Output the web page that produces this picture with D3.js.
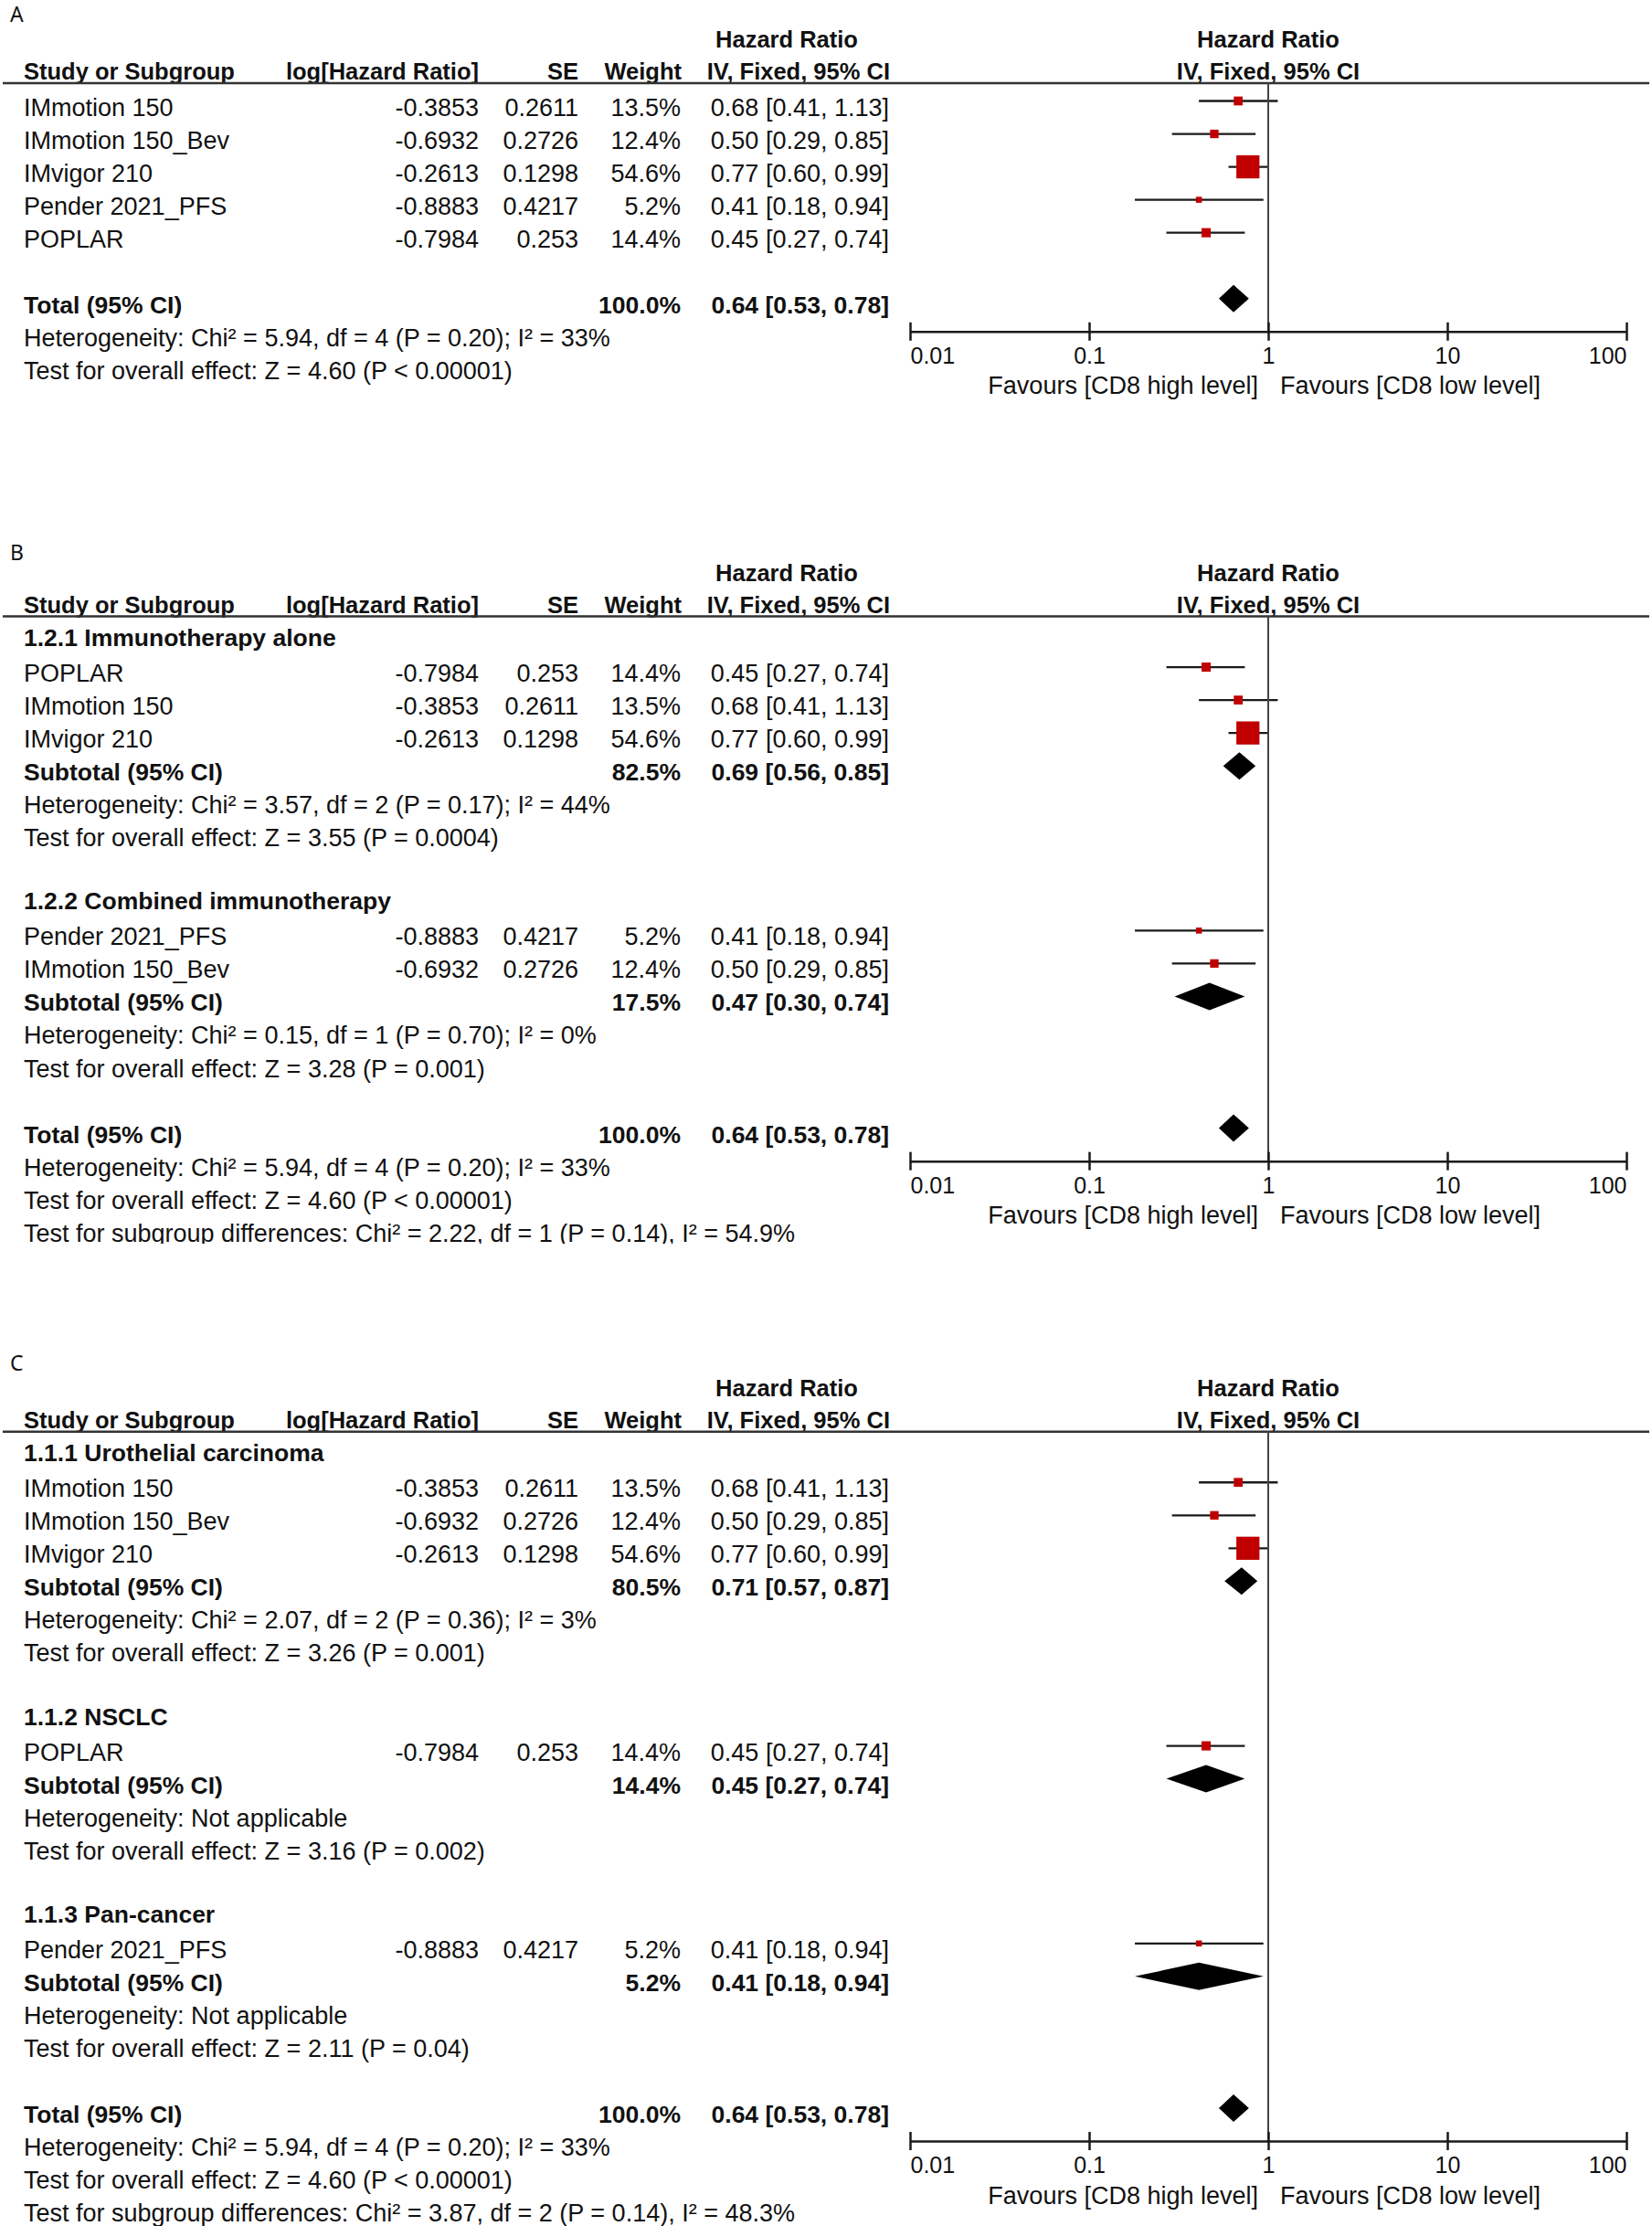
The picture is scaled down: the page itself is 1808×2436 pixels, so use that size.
<!DOCTYPE html>
<html><head><meta charset="utf-8">
<script src="https://cdn.jsdelivr.net/npm/d3@7"></script>
<style>
html,body{margin:0;padding:0;background:#fff;}
svg{display:block;background:#fff;}
text{font-family:"Liberation Sans", Arial, sans-serif; fill:#111;}
</style></head><body>
<svg id="chart" width="1808" height="2436"></svg>
<script>
// ================= DATA =================
const studyNames   = ["IMmotion 150", "IMmotion 150_Bev", "IMvigor 210", "Pender 2021_PFS", "POPLAR"];
const logHazardRatios = ["-0.3853", "-0.6932", "-0.2613", "-0.8883", "-0.7984"];
const standardErrors  = ["0.2611", "0.2726", "0.1298", "0.4217", "0.253"];
const studyWeights = [13.5, 12.4, 54.6, 5.2, 14.4];
const studyHR      = [0.68, 0.50, 0.77, 0.41, 0.45];
const studyLower   = [0.41, 0.29, 0.60, 0.18, 0.27];
const studyUpper   = [1.13, 0.85, 0.99, 0.94, 0.74];

const totalEstimate = [100.0, 0.64, 0.53, 0.78]; // weight, HR, lower, upper
const totalHeterogeneity = "Heterogeneity: Chi\u00B2 = 5.94, df = 4 (P = 0.20); I\u00B2 = 33%";
const totalEffect = "Test for overall effect: Z = 4.60 (P < 0.00001)";

// Panel A
const orderA = [0, 1, 2, 3, 4];

// Panel B
const groupTitlesB  = ["1.2.1 Immunotherapy alone", "1.2.2 Combined immunotherapy"];
const groupStudiesB = [[4, 0, 2], [3, 1]];
const subWeightB = [82.5, 17.5];
const subHRB     = [0.69, 0.47];
const subLowerB  = [0.56, 0.30];
const subUpperB  = [0.85, 0.74];
const subHeterogeneityB = ["Heterogeneity: Chi\u00B2 = 3.57, df = 2 (P = 0.17); I\u00B2 = 44%",
                           "Heterogeneity: Chi\u00B2 = 0.15, df = 1 (P = 0.70); I\u00B2 = 0%"];
const subEffectB = ["Test for overall effect: Z = 3.55 (P = 0.0004)",
                    "Test for overall effect: Z = 3.28 (P = 0.001)"];
const subgroupDiffB = "Test for subgroup differences: Chi\u00B2 = 2.22, df = 1 (P = 0.14), I\u00B2 = 54.9%";

// Panel C
const groupTitlesC  = ["1.1.1 Urothelial carcinoma", "1.1.2 NSCLC", "1.1.3 Pan-cancer"];
const groupStudiesC = [[0, 1, 2], [4], [3]];
const subWeightC = [80.5, 14.4, 5.2];
const subHRC     = [0.71, 0.45, 0.41];
const subLowerC  = [0.57, 0.27, 0.18];
const subUpperC  = [0.87, 0.74, 0.94];
const subHeterogeneityC = ["Heterogeneity: Chi\u00B2 = 2.07, df = 2 (P = 0.36); I\u00B2 = 3%",
                           "Heterogeneity: Not applicable",
                           "Heterogeneity: Not applicable"];
const subEffectC = ["Test for overall effect: Z = 3.26 (P = 0.001)",
                    "Test for overall effect: Z = 3.16 (P = 0.002)",
                    "Test for overall effect: Z = 2.11 (P = 0.04)"];
const subgroupDiffC = "Test for subgroup differences: Chi\u00B2 = 3.87, df = 2 (P = 0.14), I\u00B2 = 48.3%";

const tickValues = [0.01, 0.1, 1, 10, 100];
const tickLabels = ["0.01", "0.1", "1", "10", "100"];
const favourLeft = "Favours [CD8 high level]";
const favourRight = "Favours [CD8 low level]";

// ================= LAYOUT =================
const svg = d3.select("#chart");
const x = d3.scaleLog().domain([0.01, 100]).range([996, 1780]);
const boxSize = d3.scaleLinear().domain([0, 100]).range([4.6, 42.5]);
const STEP = 36.04;
const COL = {name: 26, logHR: 524, se: 633, weight: 745, ci: 973};
const FS = 27, FSB = 26.5, FSH = 25.5;

const fmtCI = (hr, lo, hi) => `${hr.toFixed(2)} [${lo.toFixed(2)}, ${hi.toFixed(2)}]`;
const fmtW = w => w.toFixed(1) + "%";

function rowsA() {
  const r = orderA.map(i => ({type: "study", i}));
  r.push({type: "blank"});
  r.push({type: "pooled", label: "Total (95% CI)", w: totalEstimate[0], hr: totalEstimate[1], lo: totalEstimate[2], hi: totalEstimate[3], total: true});
  r.push({type: "note", text: totalHeterogeneity});
  r.push({type: "note", text: totalEffect});
  return r;
}
function rowsGrouped(titles, studies, sw, shr, slo, shi, het, eff, diff) {
  const r = [];
  titles.forEach((t, g) => {
    r.push({type: "group", text: t});
    studies[g].forEach(i => r.push({type: "study", i}));
    r.push({type: "pooled", label: "Subtotal (95% CI)", w: sw[g], hr: shr[g], lo: slo[g], hi: shi[g]});
    r.push({type: "note", text: het[g]});
    r.push({type: "note", text: eff[g]});
    r.push({type: "blank"});
  });
  r.push({type: "pooled", label: "Total (95% CI)", w: totalEstimate[0], hr: totalEstimate[1], lo: totalEstimate[2], hi: totalEstimate[3], total: true});
  r.push({type: "note", text: totalHeterogeneity});
  r.push({type: "note", text: totalEffect});
  r.push({type: "note", text: diff});
  return r;
}

const panels = [
  {label: "A", labelY: 24, headerY: 91, rows: rowsA(), clip: null},
  {label: "B", labelY: 613, headerY: 674.5,
   rows: rowsGrouped(groupTitlesB, groupStudiesB, subWeightB, subHRB, subLowerB, subUpperB, subHeterogeneityB, subEffectB, subgroupDiffB),
   clip: [560, 1361]},
  {label: "C", labelY: 1500, headerY: 1566.7,
   rows: rowsGrouped(groupTitlesC, groupStudiesC, subWeightC, subHRC, subLowerC, subUpperC, subHeterogeneityC, subEffectC, subgroupDiffC),
   clip: null}
];

function txt(g, xPos, yPos, s, anchor, size, bold) {
  return g.append("text").attr("x", xPos).attr("y", yPos).attr("text-anchor", anchor || "start")
    .style("font-size", (size || FS) + "px").style("font-weight", bold ? "bold" : "normal").text(s);
}

panels.forEach((p, pi) => {
  const g = svg.append("g");
  if (p.clip) {
    svg.append("clipPath").attr("id", "clip" + pi).append("rect")
      .attr("x", 0).attr("y", p.clip[0]).attr("width", 1808).attr("height", p.clip[1] - p.clip[0]);
    g.attr("clip-path", `url(#clip${pi})`);
  }
  g.append("text").attr("x", 11).attr("y", p.labelY).text(p.label)
    .style("font-family", "'Noto Sans', 'Open Sans', sans-serif").style("font-size", "23px");

  const H = p.headerY;
  // headers
  txt(g, 861, H - 39, "Hazard Ratio", "middle", FSH, true);
  txt(g, COL.name, H - 4, "Study or Subgroup", "start", FSH, true);
  txt(g, COL.logHR, H - 4, "log[Hazard Ratio]", "end", FSH, true);
  txt(g, COL.se, H - 4, "SE", "end", FSH, true);
  txt(g, COL.weight + 1, H - 4, "Weight", "end", FSH, true);
  txt(g, COL.ci + 1, H - 4, "IV, Fixed, 95% CI", "end", FSH, true);
  txt(g, x(1), H - 39, "Hazard Ratio", "middle", FSH, true);
  txt(g, x(1), H - 4, "IV, Fixed, 95% CI", "middle", FSH, true);
  g.append("line").attr("x1", 3).attr("x2", 1805).attr("y1", H).attr("y2", H)
    .attr("stroke", "#333").attr("stroke-width", 2.5);

  const y0 = H + 19.5;
  let totalIdx = 0;
  p.rows.forEach((r, i) => {
    const cy = y0 + i * STEP, by = cy + 16;
    if (r.type === "study") {
      const k = r.i;
      txt(g, COL.name, by, studyNames[k]);
      txt(g, COL.logHR, by, logHazardRatios[k], "end");
      txt(g, COL.se, by, standardErrors[k], "end");
      txt(g, COL.weight, by, fmtW(studyWeights[k]), "end");
      txt(g, COL.ci, by, fmtCI(studyHR[k], studyLower[k], studyUpper[k]), "end");
      g.append("line").attr("x1", x(studyLower[k])).attr("x2", x(studyUpper[k]))
        .attr("y1", cy).attr("y2", cy).attr("stroke", "#1a1a1a").attr("stroke-width", 2.3);
      const s = boxSize(studyWeights[k]);
      g.append("rect").attr("x", x(studyHR[k]) - s / 2).attr("y", cy - s / 2)
        .attr("width", s).attr("height", s).attr("fill", "#c00000");
    } else if (r.type === "group") {
      txt(g, COL.name, by - 3, r.text, "start", FSB, true);
    } else if (r.type === "pooled") {
      if (r.total) totalIdx = i;
      txt(g, COL.name, by, r.label, "start", FSB, true);
      txt(g, COL.weight, by, fmtW(r.w), "end", FSB, true);
      txt(g, COL.ci, by, fmtCI(r.hr, r.lo, r.hi), "end", FSB, true);
      const hh = 15;
      g.append("path").attr("d",
        `M${x(r.lo)},${cy} L${x(r.hr)},${cy - hh} L${x(r.hi)},${cy} L${x(r.hr)},${cy + hh} Z`)
        .attr("fill", "#000");
    } else if (r.type === "note") {
      txt(g, COL.name, by, r.text);
    }
  });

  const axisY = y0 + (totalIdx + 1) * STEP;
  // vertical line of no effect
  g.append("line").attr("x1", x(1)).attr("x2", x(1)).attr("y1", H).attr("y2", axisY)
    .attr("stroke", "#444").attr("stroke-width", 2);

  const axis = d3.axisBottom(x).tickValues(tickValues)
    .tickFormat((d, i) => tickLabels[i]).tickSizeInner(10).tickSizeOuter(0);
  const ag = g.append("g").attr("transform", `translate(0,${axisY})`).call(axis);
  ag.select(".domain").attr("stroke", "#1a1a1a").attr("stroke-width", 2.5);
  ag.selectAll(".tick line").attr("y1", -10).attr("y2", 10).attr("stroke", "#1a1a1a").attr("stroke-width", 2.5);
  ag.selectAll(".tick text").attr("y", 35).attr("dy", null)
    .style("font-size", "25px").style("font-family", "'Liberation Sans', Arial, sans-serif").attr("fill", "#111")
    .attr("text-anchor", (d, i) => i === 0 ? "start" : (i === tickValues.length - 1 ? "end" : "middle"));
  txt(g, x(1) - 11, axisY + 68.5, favourLeft, "end", FS);
  txt(g, x(1) + 13, axisY + 68.5, favourRight, "start", FS);
});
</script>
</body></html>
